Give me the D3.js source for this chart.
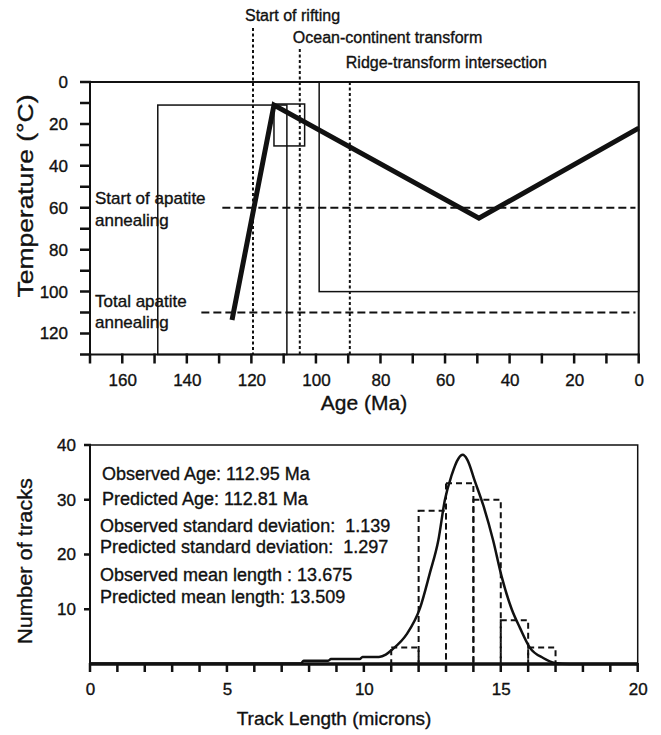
<!DOCTYPE html>
<html>
<head>
<meta charset="utf-8">
<script src="https://cdn.jsdelivr.net/npm/d3@7"></script>
<style>
  body { margin: 0; background: #fff; }
  svg text { font-family: "Liberation Sans", Arial, Helvetica, sans-serif; fill: #111; stroke: #111; stroke-width: 0.35px; }
</style>
</head>
<body>
<svg id="chart" width="661" height="735"></svg>
<script>
// thermal history path (age Ma, temperature C)
var pathAges = [126, 113, 49.5, 0];
var pathTemps = [113.5, 11, 65, 22];

// constraint boxes
var boxOld = [149, 113, 99];
var boxYoung = [109, 103.5, 0];
var boxTop = [11, 10.5, 0];
var boxBottom = [130, 30.5, 100];

// tectonic events
var eventNames = ["Start of rifting", "Ocean-continent transform", "Ridge-transform intersection"];
var eventAges = [119.5, 105, 89.5];

// annealing temperatures
var annealNames = [["Start of apatite", "annealing"], ["Total apatite", "annealing"]];
var annealTemps = [60, 110];
var annealFrom = [129, 135.5];

// tick values
var ageTicks = d3.range(0, 171, 10);
var tempTicks = d3.range(0, 131, 10);
var lenTicks = d3.range(0, 21, 1);
var countTicks = [10, 20, 30, 40];

// track length histogram
var binStart = [11, 12, 13, 14, 15, 16];
var binCount = [3, 28, 33, 30, 8, 3];

// predicted distribution
var curveLen = [0, 7.7, 7.8, 8.7, 8.8, 9.85, 9.95, 10.55, 10.8, 11.0, 11.56, 12.05, 12.41, 12.72, 12.96, 13.2, 13.45, 13.61, 13.78, 14.06, 14.36, 14.72, 15.03, 15.4, 15.7, 16.06, 16.55, 16.98, 17.5, 20];
var curveVal = [0.1, 0.1, 0.6, 0.6, 0.9, 0.9, 1.3, 1.3, 1.7, 2.5, 5.4, 10.2, 16.6, 22.6, 30.0, 34.4, 37.5, 38.2, 37.3, 33.3, 29.0, 22.6, 16.0, 10.0, 6.6, 3.0, 1.1, 0.2, 0, 0];

var statLines = [
  "Observed Age: 112.95 Ma",
  "Predicted Age: 112.81 Ma",
  "Observed standard deviation:  1.139",
  "Predicted standard deviation:  1.297",
  "Observed mean length : 13.675",
  "Predicted mean length: 13.509"
];

var svg = d3.select("#chart");
var ink = "#111";

// d3 axis for labels, tick marks drawn as one path per axis
function styleAxis(g) {
  g.select(".domain").remove();
  g.selectAll(".tick line").remove();
  g.selectAll(".tick text").style("font-size", "17px");
}
function xTicks(g, scale, vals, y0, len) {
  var d = vals.map(function (v) { return "M" + scale(v) + "," + (y0 - 1) + "V" + (y0 + len); }).join("");
  g.append("path").attr("d", d).attr("fill", "none")
    .attr("stroke", ink).attr("stroke-width", 2.5);
}
function yTicks(g, scale, vals, x0, len) {
  var d = vals.map(function (v) { return "M" + (x0 + 1) + "," + scale(v) + "H" + (x0 - len); }).join("");
  g.append("path").attr("d", d).attr("fill", "none")
    .attr("stroke", ink).attr("stroke-width", 2.5);
}

// ---------- top panel ----------
var x = d3.scaleLinear().domain([170, 0]).range([90, 638.7]);
var y = d3.scaleLinear().domain([0, 130]).range([82, 354.5]);
var topG = svg.append("g");

// boxes
boxOld.forEach(function (a, i) {
  topG.append("rect")
    .attr("x", x(a)).attr("y", y(boxTop[i]))
    .attr("width", x(boxYoung[i]) - x(a))
    .attr("height", y(boxBottom[i]) - y(boxTop[i]))
    .attr("fill", "none").attr("stroke", ink).attr("stroke-width", 1.5);
});

// annealing lines + labels
annealTemps.forEach(function (t, i) {
  topG.append("line")
    .attr("x1", x(annealFrom[i])).attr("x2", x(1))
    .attr("y1", y(t)).attr("y2", y(t))
    .attr("stroke", ink).attr("stroke-width", 2)
    .attr("stroke-dasharray", "8,4");
});
var annBase = [[204, 226], [307, 328]];
annealNames.forEach(function (lines, i) {
  lines.forEach(function (s, k) {
    topG.append("text").attr("x", 95).attr("y", annBase[i][k])
      .style("font-size", "17px").text(s);
  });
});

// event lines + labels
var evTop = [28, 49, 82];
var evBase = [21, 43, 68];
var evShift = [-8, -7, -4];
eventAges.forEach(function (a, i) {
  topG.append("line")
    .attr("x1", x(a)).attr("x2", x(a))
    .attr("y1", evTop[i]).attr("y2", y(130))
    .attr("stroke", ink).attr("stroke-width", 2)
    .attr("stroke-dasharray", "3,2.5");
  topG.append("text").attr("x", x(a) + evShift[i]).attr("y", evBase[i])
    .style("font-size", "16px").text(eventNames[i]);
});

// frame
topG.append("rect")
  .attr("x", x(170)).attr("y", y(0))
  .attr("width", x(0) - x(170)).attr("height", y(130) - y(0))
  .attr("fill", "none").attr("stroke", ink).attr("stroke-width", 2);

// thermal path
var pathPts = pathAges.map(function (a, i) { return [x(a), y(pathTemps[i])]; });
topG.append("path")
  .attr("d", d3.line()(pathPts))
  .attr("fill", "none").attr("stroke", ink)
  .attr("stroke-width", 5).attr("stroke-linejoin", "miter");

// axes
var xAxis = d3.axisBottom(x)
  .tickValues(ageTicks)
  .tickSize(9).tickPadding(10)
  .tickFormat(function (d) { return (d % 20 === 0 && d < 170) ? d : ""; });
var gx = topG.append("g").attr("transform", "translate(0," + y(130) + ")").call(xAxis);

var yAxis = d3.axisLeft(y)
  .tickValues(tempTicks)
  .tickSize(10).tickPadding(12)
  .tickFormat(function (d) { return (d % 20 === 0) ? d : ""; });
var gy = topG.append("g").attr("transform", "translate(" + x(170) + ",0)").call(yAxis);

styleAxis(gx);
styleAxis(gy);
xTicks(topG, x, ageTicks, y(130), 9);
yTicks(topG, y, tempTicks, x(170), 10);

topG.append("text").attr("x", 364).attr("y", 410)
  .attr("text-anchor", "middle").style("font-size", "21px").text("Age (Ma)");
topG.append("text")
  .attr("transform", "translate(33,196) rotate(-90)")
  .attr("text-anchor", "middle").style("font-size", "22px")
  .attr("textLength", 203).attr("lengthAdjust", "spacingAndGlyphs")
  .text("Temperature (°C)");

// ---------- bottom panel ----------
var xl = d3.scaleLinear().domain([0, 20]).range([90, 637.7]);
var yl = d3.scaleLinear().domain([0, 40]).range([664, 445]);
var bot = svg.append("g");

// frame
bot.append("rect")
  .attr("x", xl(0)).attr("y", yl(40))
  .attr("width", xl(20) - xl(0)).attr("height", yl(0) - yl(40))
  .attr("fill", "none").attr("stroke", ink).attr("stroke-width", 1.5);

// histogram
bot.selectAll(".bin")
  .data(binStart)
  .enter()
  .append("rect")
  .attr("x", function (d) { return xl(d); })
  .attr("y", function (d, i) { return yl(binCount[i]); })
  .attr("width", function (d) { return xl(d + 1) - xl(d); })
  .attr("height", function (d, i) { return yl(0) - yl(binCount[i]); })
  .attr("fill", "none").attr("stroke", ink).attr("stroke-width", 2)
  .attr("stroke-dasharray", "6,4");

// predicted curve
var curvePts = curveLen.map(function (l, i) { return [xl(l), yl(curveVal[i])]; });
bot.append("path")
  .attr("d", d3.line().curve(d3.curveMonotoneX)(curvePts))
  .attr("fill", "none").attr("stroke", ink).attr("stroke-width", 2.5);

// x axis line
bot.append("line")
  .attr("x1", xl(0)).attr("x2", xl(20))
  .attr("y1", yl(0)).attr("y2", yl(0))
  .attr("stroke", ink).attr("stroke-width", 3.5);

var xlAxis = d3.axisBottom(xl)
  .tickValues(lenTicks)
  .tickSize(8).tickPadding(11)
  .tickFormat(function (d) { return d % 5 === 0 ? d : ""; });
var glx = bot.append("g").attr("transform", "translate(0," + yl(0) + ")").call(xlAxis);

var ylAxis = d3.axisLeft(yl)
  .tickValues(countTicks)
  .tickSize(6).tickPadding(8);
var gly = bot.append("g").attr("transform", "translate(" + xl(0) + ",0)").call(ylAxis);

styleAxis(glx);
styleAxis(gly);
xTicks(bot, xl, lenTicks, yl(0), 8);
yTicks(bot, yl, countTicks, xl(0), 6);
bot.append("line").attr("x1", xl(0)).attr("x2", xl(0))
  .attr("y1", yl(40)).attr("y2", yl(0))
  .attr("stroke", ink).attr("stroke-width", 2);

// stats text
var statBase = [480, 505, 532, 553, 581, 603];
statLines.forEach(function (s, i) {
  bot.append("text")
    .attr("x", i < 2 ? 102 : 100).attr("y", statBase[i])
    .style("font-size", "18px").style("white-space", "pre")
    .attr("xml:space", "preserve")
    .text(s);
});

bot.append("text").attr("x", 334).attr("y", 725)
  .attr("text-anchor", "middle").style("font-size", "19px").text("Track Length (microns)");
bot.append("text")
  .attr("transform", "translate(32,561) rotate(-90)")
  .attr("text-anchor", "middle").style("font-size", "21px")
  .attr("textLength", 166).attr("lengthAdjust", "spacingAndGlyphs")
  .text("Number of tracks");
</script>
</body>
</html>
